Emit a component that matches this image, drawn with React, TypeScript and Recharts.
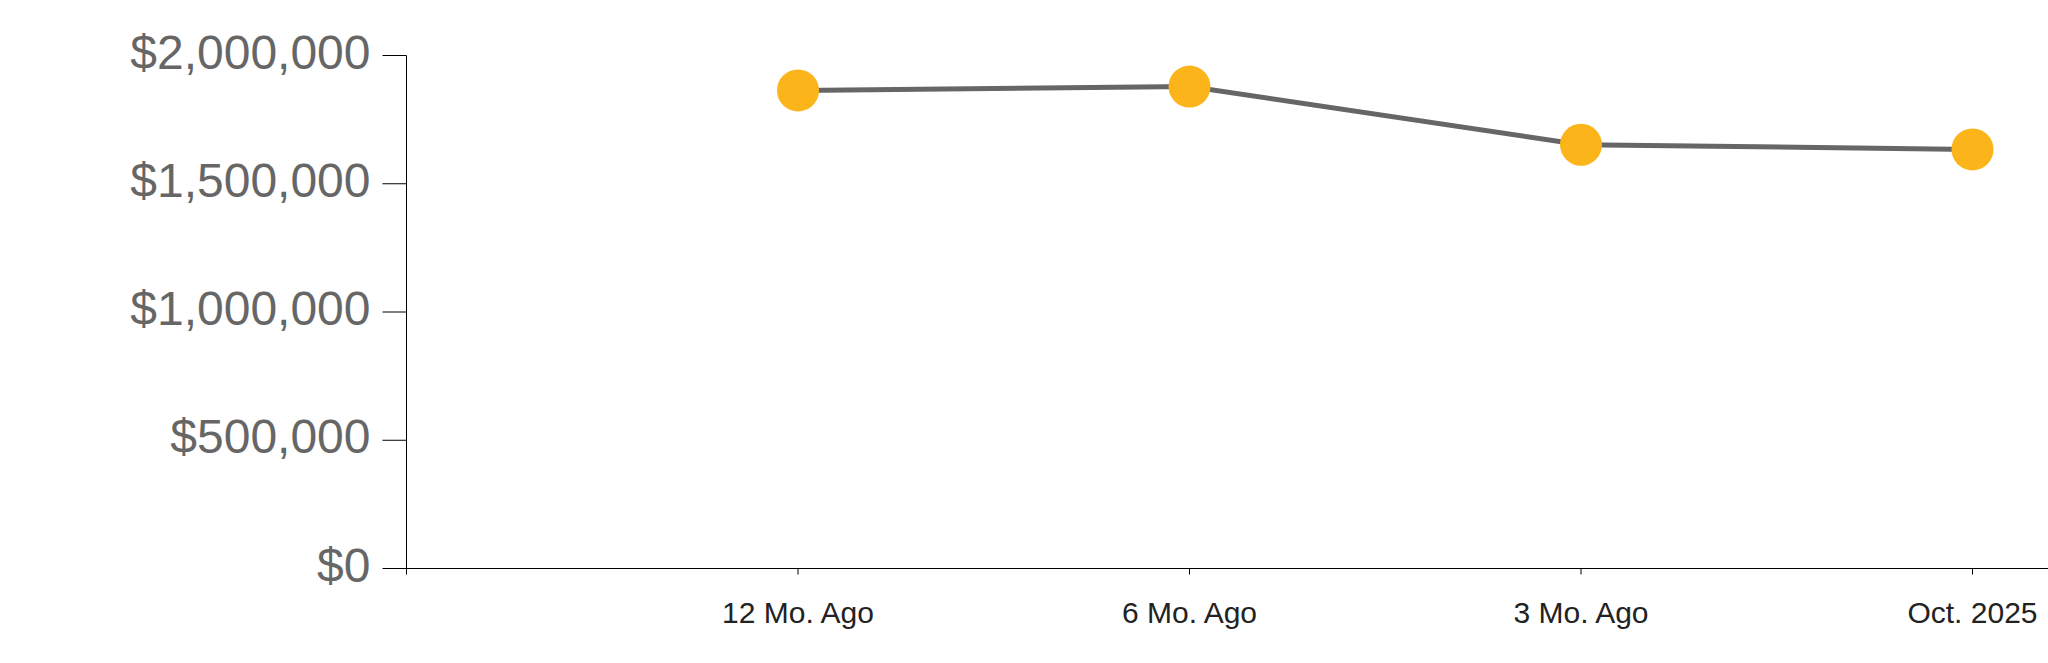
import React from "react";
import { LineChart, Line, XAxis, YAxis } from "recharts";

if (typeof document !== "undefined") {
  document.body.style.margin = "0";
  document.body.style.overflow = "hidden";
}

const categories = ["", "12 Mo. Ago", "6 Mo. Ago", "3 Mo. Ago", "Oct. 2025"];
const values: (number | null)[] = [null, 1864000, 1879000, 1652000, 1634000];
const yTicks = [0, 500000, 1000000, 1500000, 2000000];

const data = categories.map((c, i) => ({ name: c, value: values[i] }));

const fmt = (v: number) => "$" + v.toLocaleString("en-US");

const YTick = (props: any) => {
  const { x, y, payload } = props;
  return (
    <text
      x={x}
      y={y}
      dy={13}
      textAnchor="end"
      fill="#666666"
      fontSize={48}
      fontFamily="'Liberation Sans', Arial, sans-serif"
    >
      {fmt(payload.value)}
    </text>
  );
};

export default function App() {
  return (
    <div style={{ transform: "translate(0.5px, 0.5px)", width: 2048, height: 653 }}>
      <LineChart
        width={2048}
        height={653}
        data={data}
        margin={{ top: 55, right: 0, bottom: 0, left: 0 }}
      >
        <XAxis
          dataKey="name"
          type="category"
          scale="point"
          padding={{ left: 0, right: 76 }}
          height={85}
          stroke="#000"
          tickSize={6}
          tickMargin={27}
          interval={0}
          tick={{ fill: "#222222", fontSize: 30, fontFamily: "'Liberation Sans', Arial, sans-serif" }}
        />
        <YAxis
          width={406}
          domain={[0, 2000000]}
          ticks={yTicks}
          stroke="#000"
          tickSize={24}
          tickMargin={12}
          tick={<YTick />}
        />
        <Line
          type="linear"
          dataKey="value"
          stroke="#666666"
          strokeWidth={5}
          dot={{ r: 21, fill: "#FBB41A", stroke: "none", strokeWidth: 0, fillOpacity: 1 }}
          activeDot={false}
          connectNulls
          isAnimationActive={false}
        />
      </LineChart>
    </div>
  );
}
